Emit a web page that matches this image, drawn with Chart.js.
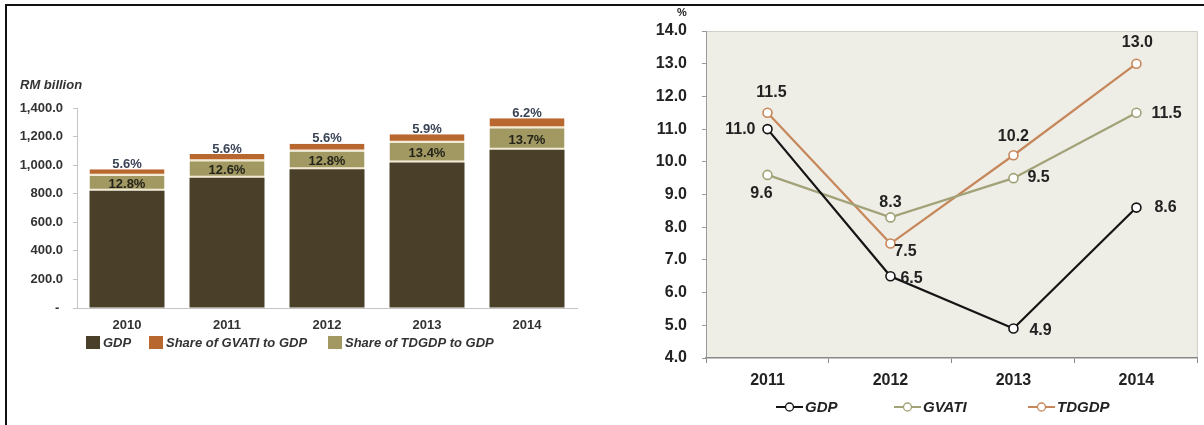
<!DOCTYPE html>
<html>
<head>
<meta charset="utf-8">
<script src="https://cdn.jsdelivr.net/npm/chart.js"></script>
<style>
  body { margin: 0; background: #fff; }
  #marco { position: relative; width: 1204px; height: 425px; overflow: hidden; }
  #barras { position: absolute; left: 0; top: 0; }
  #lineas { position: absolute; left: 600px; top: 0; }
  .borde { position: absolute; background: #111; }
</style>
</head>
<body>
<div id="marco">
  <canvas id="barras" width="600" height="425"></canvas>
  <canvas id="lineas" width="604" height="425"></canvas>
  <div class="borde" style="left:5px;top:4px;width:1199px;height:2px"></div>
  <div class="borde" style="left:5px;top:4px;width:2px;height:421px"></div>
</div>
<script>
// datos del grafico de barras (RM billion)
var anios = ["2010", "2011", "2012", "2013", "2014"];
var gdp = [821, 912, 971, 1019, 1107];
var tdgdpMonto = [105, 115, 124, 137, 152];
var gvatiMonto = [46, 51, 54, 60, 69];
var tdgdpPct = ["12.8%", "12.6%", "12.8%", "13.4%", "13.7%"];
var gvatiPct = ["5.6%", "5.6%", "5.6%", "5.9%", "6.2%"];

// datos del grafico de lineas (%)
var aniosLinea = ["2011", "2012", "2013", "2014"];
var gdpCrec = [11.0, 6.5, 4.9, 8.6];
var gvatiCrec = [9.6, 8.3, 9.5, 11.5];
var tdgdpCrec = [11.5, 7.5, 10.2, 13.0];

Chart.defaults.font.family = "'Liberation Sans', Arial, sans-serif";
Chart.defaults.animation = false;

var colGdp = "#4a4029";
var colTd = "#a19862";
var colGv = "#b8672f";
var crema = "#f3ead0";

// etiquetas, titulo y leyenda del grafico de barras
var extrasBarras = {
  id: "extrasBarras",
  afterDatasetsDraw: function (chart) {
    var ctx = chart.ctx;
    var metaT = chart.getDatasetMeta(1);
    var metaG = chart.getDatasetMeta(2);
    ctx.save();
    ctx.font = "bold 13px 'Liberation Sans', Arial, sans-serif";
    ctx.textAlign = "center";
    ctx.textBaseline = "middle";
    metaT.data.forEach(function (bar, i) {
      ctx.fillStyle = "#24241a";
      ctx.fillText(tdgdpPct[i], bar.x, (bar.y + bar.base) / 2 + 1);
      ctx.fillStyle = "#3a4456";
      ctx.fillText(gvatiPct[i], metaG.data[i].x, metaG.data[i].y - 5);
    });

    ctx.font = "italic bold 13px 'Liberation Sans', Arial, sans-serif";
    ctx.textAlign = "left";
    ctx.fillStyle = "#333";
    ctx.fillText("RM billion", 20, 85);

    var items = [
      { x: 86, color: colGdp, text: "GDP" },
      { x: 149, color: colGv, text: "Share of GVATI to GDP" },
      { x: 328, color: colTd, text: "Share of TDGDP to GDP" },
    ];
    items.forEach(function (it) {
      ctx.fillStyle = it.color;
      ctx.fillRect(it.x, 336, 14, 13);
      ctx.fillStyle = "#333";
      ctx.fillText(it.text, it.x + 17, 343);
    });
    ctx.restore();
  },
};

var ctx1 = document.getElementById("barras").getContext("2d");
var barras = new Chart(ctx1, {
  type: "bar",
  data: {
    labels: anios,
    datasets: [
      {
        label: "GDP",
        data: gdp,
        backgroundColor: colGdp,
        borderWidth: 0,
      },
      {
        label: "Share of TDGDP to GDP",
        data: tdgdpMonto,
        backgroundColor: colTd,
        borderColor: crema,
        borderWidth: { top: 0, right: 0, bottom: 2, left: 0 },
        borderSkipped: false,
      },
      {
        label: "Share of GVATI to GDP",
        data: gvatiMonto,
        backgroundColor: colGv,
        borderColor: crema,
        borderWidth: { top: 0, right: 0, bottom: 2, left: 0 },
        borderSkipped: false,
      },
    ],
  },
  options: {
    responsive: false,
    layout: { padding: { top: 108, right: 23, bottom: 87, left: 0 } },
    datasets: { bar: { categoryPercentage: 1, barPercentage: 0.75 } },
    plugins: { legend: { display: false }, tooltip: { enabled: false } },
    scales: {
      x: {
        stacked: true,
        grid: { display: false, drawTicks: false },
        border: { color: "#c4c4c4", width: 1 },
        ticks: {
          padding: 10,
          color: "#333",
          font: { size: 13, weight: "bold" },
        },
        afterFit: function (s) { s.height = 30; },
      },
      y: {
        stacked: true,
        min: 0,
        max: 1400,
        ticks: {
          stepSize: 200,
          padding: 10,
          color: "#333",
          font: { size: 13, weight: "bold" },
          callback: function (v) {
            if (v === 0) return "- ";
            return v.toLocaleString("en-US", { minimumFractionDigits: 1 });
          },
        },
        grid: { drawOnChartArea: false, tickLength: 4, color: "#c4c4c4" },
        border: { color: "#c4c4c4", width: 1 },
        afterFit: function (s) { s.width = 77; },
      },
    },
  },
  plugins: [extrasBarras],
});

// grafico de lineas
var posEtiquetas = {
  GDP: [[-12, 0, "right"], [10, 2, "left"], [16, 2, "left"], [18, 0, "left"]],
  GVATI: [[-6, 19, "center"], [0, -15, "center"], [14, -1, "left"], [15, 1, "left"]],
  TDGDP: [[4, -20, "center"], [15, 8, "center"], [0, -19, "center"], [1, -21, "center"]],
};

var extrasLineas = {
  id: "extrasLineas",
  beforeDraw: function (chart) {
    var a = chart.chartArea;
    var ctx = chart.ctx;
    ctx.save();
    ctx.fillStyle = "#eeede6";
    ctx.fillRect(a.left, a.top, a.right - a.left, a.bottom - a.top);
    ctx.strokeStyle = "#d0d0c8";
    ctx.lineWidth = 1;
    ctx.beginPath();
    ctx.moveTo(a.left, a.top + 0.5);
    ctx.lineTo(a.right - 0.5, a.top + 0.5);
    ctx.lineTo(a.right - 0.5, a.bottom);
    ctx.stroke();
    ctx.restore();
  },
  afterDatasetsDraw: function (chart) {
    var ctx = chart.ctx;
    ctx.save();
    ctx.font = "bold 16px 'Liberation Sans', Arial, sans-serif";
    ctx.textBaseline = "middle";
    ctx.fillStyle = "#222";
    chart.data.datasets.forEach(function (ds, d) {
      var meta = chart.getDatasetMeta(d);
      meta.data.forEach(function (p, i) {
        var pos = posEtiquetas[ds.label][i];
        ctx.textAlign = pos[2];
        ctx.fillText(ds.data[i].toFixed(1), p.x + pos[0], p.y + pos[1]);
      });
    });

    ctx.font = "bold 11px 'Liberation Sans', Arial, sans-serif";
    ctx.textAlign = "center";
    ctx.fillText("%", 82, 13);

    ctx.font = "italic bold 15px 'Liberation Sans', Arial, sans-serif";
    ctx.textAlign = "left";
    var xs = [176, 294, 428];
    chart.data.datasets.forEach(function (ds, d) {
      var x = xs[d];
      var y = 407;
      ctx.strokeStyle = ds.borderColor;
      ctx.lineWidth = 2;
      ctx.beginPath();
      ctx.moveTo(x, y);
      ctx.lineTo(x + 27, y);
      ctx.stroke();
      ctx.beginPath();
      ctx.arc(x + 13.5, y, 4, 0, Math.PI * 2);
      ctx.fillStyle = "#fff";
      ctx.fill();
      ctx.lineWidth = 1.3;
      ctx.stroke();
      ctx.fillStyle = "#222";
      ctx.fillText(ds.label, x + 29, y + 1);
    });
    ctx.restore();
  },
};

var ctx2 = document.getElementById("lineas").getContext("2d");
var lineas = new Chart(ctx2, {
  type: "line",
  data: {
    labels: aniosLinea,
    datasets: [
      { label: "GDP", data: gdpCrec, borderColor: "#151515" },
      { label: "GVATI", data: gvatiCrec, borderColor: "#a2a278" },
      { label: "TDGDP", data: tdgdpCrec, borderColor: "#c6875a" },
    ],
  },
  options: {
    responsive: false,
    layout: { padding: { top: 31, right: 3, bottom: 31, left: 0 } },
    elements: {
      line: { borderWidth: 2.2, tension: 0 },
      point: {
        radius: 4.5,
        borderWidth: 1.6,
        backgroundColor: "#fff",
      },
    },
    datasets: {
      line: {
        pointBorderColor: function (c) { return c.dataset.borderColor; },
        pointBackgroundColor: "#fff",
      },
    },
    plugins: { legend: { display: false }, tooltip: { enabled: false } },
    scales: {
      x: {
        offset: true,
        grid: { offset: true, drawOnChartArea: false, tickLength: 5, color: "#888" },
        border: { color: "#888", width: 1.5 },
        ticks: { padding: 8, color: "#222", font: { size: 16, weight: "bold" } },
        afterFit: function (s) { s.height = 36; },
      },
      y: {
        min: 4,
        max: 14,
        ticks: {
          stepSize: 1,
          padding: 15,
          color: "#222",
          font: { size: 16, weight: "bold" },
          callback: function (v) { return v.toFixed(1); },
        },
        grid: { drawOnChartArea: false, tickLength: 4, color: "#999" },
        border: { color: "#999", width: 1 },
        afterFit: function (s) { s.width = 106; },
      },
    },
  },
  plugins: [extrasLineas],
});
</script>
</body>
</html>
